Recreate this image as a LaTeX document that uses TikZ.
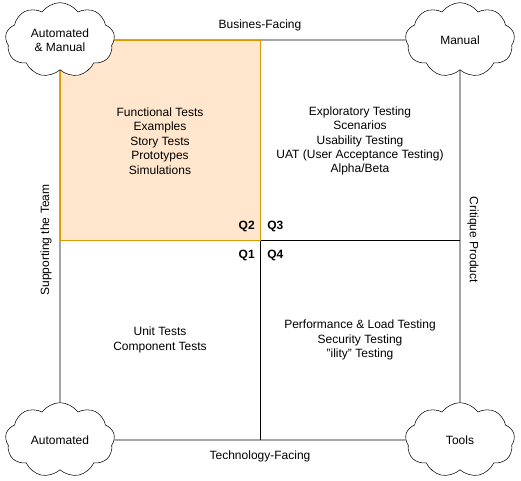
\documentclass[tikz,border=0pt]{standalone}
\usepackage{fontspec}
\setmainfont{Liberation Sans}
\usetikzlibrary{shapes.symbols, backgrounds}
\definecolor{qfill}{HTML}{FFE6CC}
\definecolor{qline}{HTML}{D79B00}

\begin{document}
\begin{tikzpicture}[x=0.75pt, y=-0.75pt, font=\fontsize{9}{10.8}\selectfont,
  corner/.style={cloud, cloud puffs=9, cloud puff arc=110, aspect=1.5,
    draw=black, fill=white, align=center, inner sep=0,
    minimum width=82pt, minimum height=56pt},
  quadtext/.style={align=center, inner sep=0},
  qlabel/.style={font=\fontsize{9}{10.8}\selectfont\bfseries, inner sep=0}]

  \useasboundingbox (0,0) rectangle (521,481);

  % corner clouds
  \node[corner] (automan) at (60,40) {Automated\\\& Manual};
  \node[corner] (manual) at (460,40) {Manual};
  \node[corner] (automated) at (60,440) {Automated};
  \node[corner] (tools) at (460,440) {Tools};

  \coordinate (midtop) at (260,40);
  \coordinate (midbottom) at (260,440);
  \coordinate (midleft) at (60,240);
  \coordinate (midright) at (460,240);

  \begin{scope}[on background layer]
    \draw (automan) -- (manual) -- (tools) -- (automated) -- (automan);
    \draw (midtop) -- (midbottom);
    \draw (midleft) -- (midright);
    % Q2 highlight
    \node[draw=qline, fill=qfill, inner sep=0, outer sep=0,
      minimum width=150pt, minimum height=150pt] (q2box) at (160,140) {};
  \end{scope}

  % axis labels
  \node (business) at (260,25) {Busines-Facing};
  \node (technology) at (260,456) {Technology-Facing};
  \node[rotate=90] (supporting) at (46,240) {Supporting the Team};
  \node[rotate=-90] (critique) at (473,240) {Critique Product};

  % quadrant contents
  \node[quadtext] (q2text) at (160,141) {Functional Tests\\Examples\\Story Tests\\Prototypes\\Simulations};
  \node[quadtext] (q3text) at (360,141) {Exploratory Testing\\Scenarios\\Usability Testing\\UAT (User Acceptance Testing)\\Alpha/Beta};
  \node[quadtext] (q1text) at (160,340) {Unit Tests\\Component Tests};
  \node[quadtext] (q4text) at (360,340) {Performance \& Load Testing\\Security Testing\\"ility" Testing};

  % quadrant names
  \node[qlabel, anchor=east] (q2) at (255,226) {Q2};
  \node[qlabel, anchor=west] (q3) at (267,226) {Q3};
  \node[qlabel, anchor=east] (q1) at (255,255) {Q1};
  \node[qlabel, anchor=west] (q4) at (267,255) {Q4};
\end{tikzpicture}
\end{document}
